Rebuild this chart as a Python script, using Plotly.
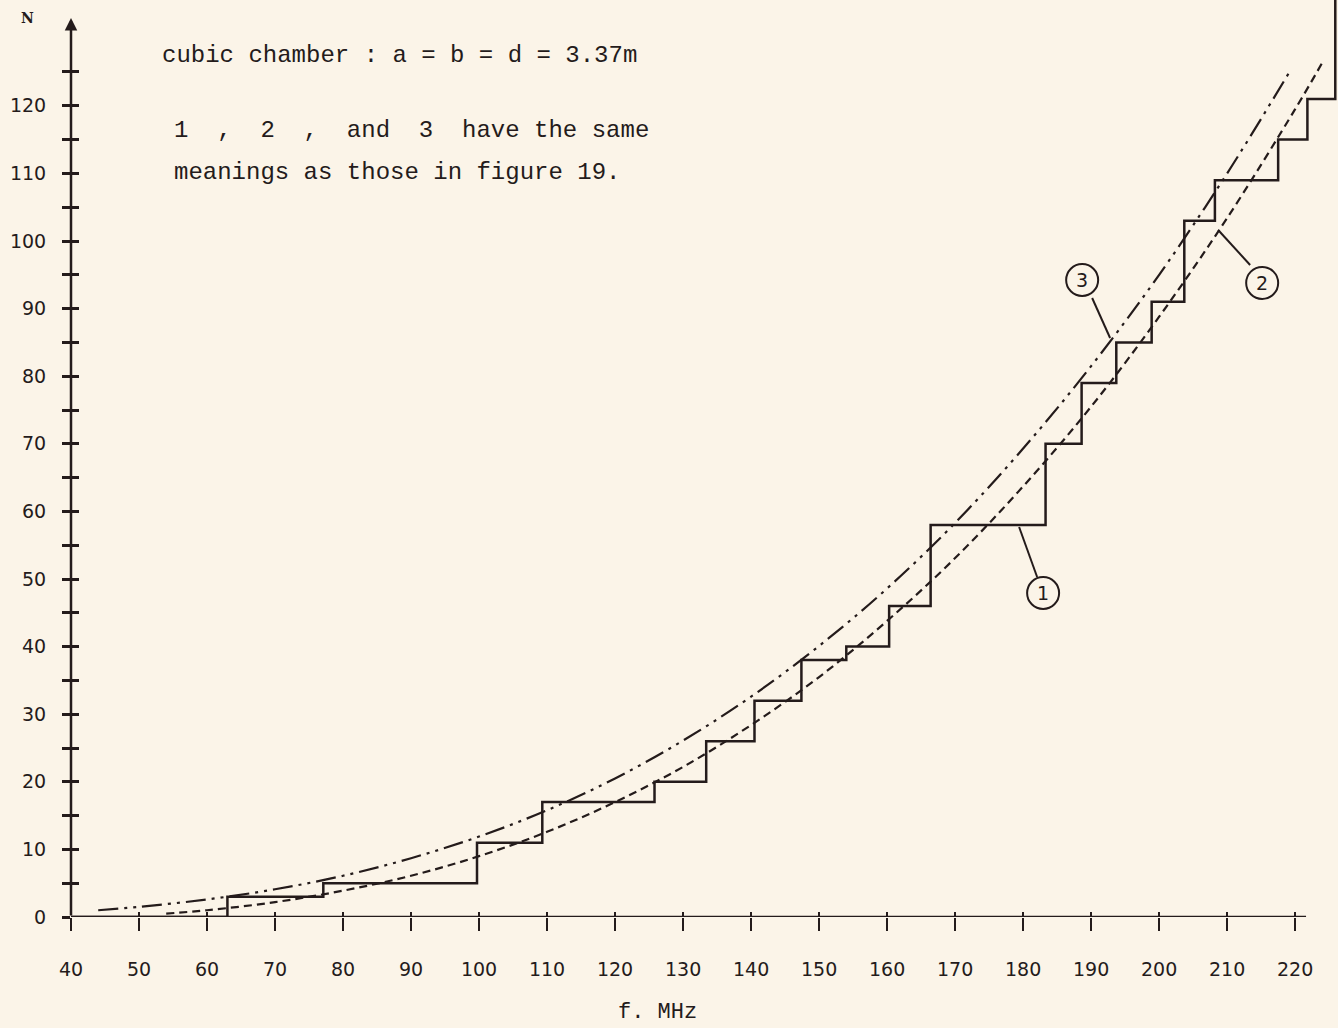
import plotly.graph_objects as go

# curve 1: counted modes (staircase), step start frequency -> N
step_f = [40, 63, 77.1, 99.7, 109.3, 125.8, 133.4, 140.5, 147.4, 154.0, 160.3, 166.4,
          183.3, 188.6, 193.7, 198.9, 203.7, 208.2, 217.5, 221.8, 225.9, 226.3]
step_n = [0, 3, 5, 11, 17, 20, 26, 32, 38, 40, 46, 58,
          70, 79, 85, 91, 103, 109, 115, 121, 139, 139]

# curve 2: dashed
c2_f = [54, 60, 70, 80, 90, 100, 110, 120, 130, 140, 150, 160, 170, 180, 190, 200, 210, 220, 224]
c2_n = [0.5, 1.0, 2.2, 3.9, 6.1, 9.0, 12.6, 17.0, 22.2, 28.4, 35.5, 43.8, 53.1, 63.7, 75.5, 88.8, 103.4, 119.5, 126.4]

# curve 3: dash-dot-dot
c3_f = [44, 50, 60, 70, 80, 90, 100, 110, 120, 130, 140, 150, 160, 170, 180, 190, 200, 210, 219.4]
c3_n = [1.0, 1.5, 2.6, 4.1, 6.1, 8.7, 11.9, 15.8, 20.5, 26.1, 32.6, 40.1, 48.6, 58.3, 69.3, 81.5, 95.0, 110.0, 125.4]

x_ticks = list(range(40, 221, 10))
y_ticks = list(range(0, 126, 5))
y_ticktext = [str(v) if v % 10 == 0 else "" for v in y_ticks]

INK = "#241b1b"
BG = "#fbf4e8"
MONO = "Liberation Mono, DejaVu Sans Mono, monospace"
SANS = "DejaVu Sans, Liberation Sans, sans-serif"

X_RANGE = [40, 226.3]
Y_RANGE = [0, 135.65]

fig = go.Figure()

fig.add_trace(go.Scatter(x=c3_f, y=c3_n, mode="lines", line_shape="spline",
                         line=dict(color=INK, width=2.2, dash="20px,6px,3px,6px,3px,6px"),
                         showlegend=False, hoverinfo="skip"))
fig.add_trace(go.Scatter(x=c2_f, y=c2_n, mode="lines", line_shape="spline",
                         line=dict(color=INK, width=2.2, dash="8px,5px"),
                         showlegend=False, hoverinfo="skip"))
fig.add_trace(go.Scatter(x=step_f, y=step_n, mode="lines", line_shape="hv",
                         line=dict(color=INK, width=2.5),
                         showlegend=False, hoverinfo="skip"))
# dummy trace so the overlay axes (inside tick halves) get drawn
fig.add_trace(go.Scatter(x=[None], y=[None], xaxis="x2", yaxis="y2", showlegend=False))

fig.update_layout(
    width=1338, height=1028,
    margin=dict(l=71, r=0, t=0, b=111),
    paper_bgcolor=BG, plot_bgcolor=BG,
    xaxis=dict(range=X_RANGE, showgrid=False, zeroline=False, showline=False,
               tickvals=x_ticks, ticks="outside", ticklen=13, tickwidth=2, tickcolor=INK,
               ticklabelstandoff=22,
               tickfont=dict(family=SANS, size=19, color=INK)),
    yaxis=dict(range=Y_RANGE, showgrid=False, zeroline=False, showline=False,
               tickvals=y_ticks, ticktext=y_ticktext, ticks="outside", ticklen=8,
               tickwidth=2.5, tickcolor=INK, ticklabelstandoff=12,
               tickfont=dict(family=SANS, size=19, color=INK)),
    xaxis2=dict(range=X_RANGE, overlaying="x", side="bottom", showgrid=False, zeroline=False,
                tickvals=x_ticks, ticks="inside", ticklen=5, tickwidth=2, tickcolor=INK,
                showticklabels=False),
    yaxis2=dict(range=Y_RANGE, overlaying="y", side="left", showgrid=False, zeroline=False,
                tickvals=y_ticks, ticks="inside", ticklen=8, tickwidth=2.5, tickcolor=INK,
                showticklabels=False),
)

# axes lines
fig.add_shape(type="line", xref="x", yref="y", x0=40, x1=221.6, y0=0, y1=0,
              line=dict(color=INK, width=2.5))
fig.add_annotation(x=40, y=133, ax=40, ay=0, xref="x", yref="y", axref="x", ayref="y",
                   showarrow=True, arrowhead=2, arrowsize=1, arrowwidth=2.5,
                   arrowcolor=INK, text="")

fig.add_annotation(x=-0.034, y=0.98, xref="paper", yref="paper", yanchor="middle",
                   xanchor="center", showarrow=False, text="<b>N</b>",
                   font=dict(family="DejaVu Serif, serif", size=14, color=INK))
fig.add_annotation(x=0.463, y=-0.1036, xref="paper", yref="paper", xanchor="center",
                   yanchor="middle", showarrow=False, text="f. MHz",
                   font=dict(family=MONO, size=22, color=INK))

notes = [
    (53.1, 127.4, "cubic chamber : a = b = d = 3.37m"),
    (54.85, 116.4, "1  ,  2  ,  and  3  have the same"),
    (54.85, 110.2, "meanings as those in figure 19."),
]
for nx, ny, txt in notes:
    fig.add_annotation(x=nx, y=ny, xref="x", yref="y", xanchor="left", yanchor="middle",
                       showarrow=False, text=txt, font=dict(family=MONO, size=24, color=INK))

# circled curve labels with leader lines
labels = [
    ("1", 182.94, 47.93, (182.06, 50.30), (179.41, 57.69)),
    ("2", 215.15, 93.79, (213.38, 96.45), (208.68, 101.63)),
    ("3", 188.68, 94.23, (190.15, 91.57), (192.79, 85.65)),
]
for txt, cx, cy, p0, p1 in labels:
    fig.add_shape(type="circle", xref="x", yref="y", xsizemode="pixel", ysizemode="pixel",
                  xanchor=cx, yanchor=cy, x0=-16, x1=16, y0=-16, y1=16,
                  line=dict(color=INK, width=2))
    fig.add_shape(type="line", xref="x", yref="y", x0=p0[0], y0=p0[1], x1=p1[0], y1=p1[1],
                  line=dict(color=INK, width=2))
    fig.add_annotation(x=cx, y=cy, xref="x", yref="y", showarrow=False, text=txt,
                       font=dict(family=SANS, size=19, color=INK))

fig.write_html("out.html", config={"displayModeBar": False},
               post_script="document.body.style.margin='0';")
